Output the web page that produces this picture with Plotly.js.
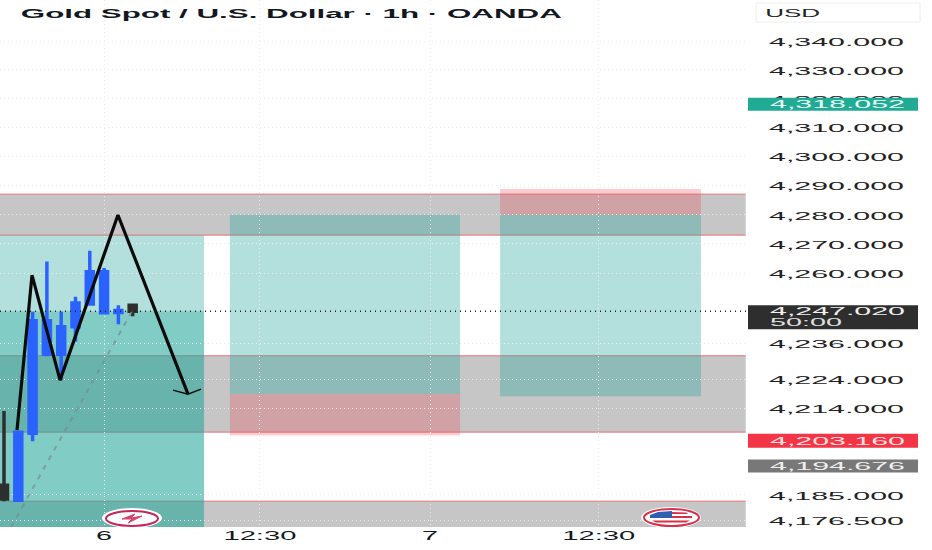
<!DOCTYPE html>
<html>
<head>
<meta charset="utf-8">
<script src="https://cdn.plot.ly/plotly-3.0.1.min.js"></script>
<style>html,body{margin:0;padding:0;background:#fff}#c{width:932px;height:550px}</style>
</head>
<body>
<div id="c"></div>
<script>
// ---- data ----
const barIndex = [0,1,2,3,4,5,6,7,8,9];
const opens  = [4188.23,4183.2,4205.72,4232.44,4232.44,4241.71,4249.44,4246.47,4246.6,4249.09];
const closes = [4183.54,4206.06,4243.75,4243.75,4241.71,4249.78,4260.45,4260.45,4247.3,4247.02];
const highs  = [4213.15,4206.3,4246.82,4264.0,4246.82,4251.92,4267.63,4261.72,4249.09,4249.2];
const lows   = [4182.86,4182.86,4203.03,4231.76,4223.63,4236.61,4249.44,4246.3,4242.63,4245.35];
const zigzagX = [0.91,1.96,3.92,7.97,12.87];
const zigzagY = [4206.74,4259.33,4223.63,4279.9,4218.89];
const arrowX = [11.82,12.87,13.78];
const arrowY = [4220.24,4218.89,4220.58];
const trendX = [0.49,8.95];
const trendY = [4174.16,4247.02];
const yTicks = [4340,4330,4320,4310,4300,4290,4280,4270,4260,4236,4224,4214,4185,4176.5];
const yLabels = ['4,340.000','4,330.000','4,320.000','4,310.000','4,300.000','4,290.000','4,280.000','4,270.000','4,260.000','4,236.000','4,224.000','4,214.000','4,185.000','4,176.500'];
const xTicks = [7,17.9,29.8,41.6];
const xLabels = ['6','12:30','7','12:30'];
const greyBands = [[4287.07,4273.0],[4231.9,4206.06],[4182.86,4174.2]];
const lastPrice = 4247.02;
const tealPrice = 4318.052;
const redPrice = 4203.16;
const greyPrice = 4194.676;
const zone1 = {x0:-0.28,x1:13.99,top:4273.0,entry:4247.02,bottom:4174.2};
const zone2 = {x0:15.8,x1:31.9,top:4280,entry:4218.9,stop:4204.9};
const zone3 = {x0:34.7,x1:48.75,top:4280,entry:4218.2,stop:4288.8};
// ---- end data ----

const W=932,H=550,L=0,R=186,T=0,B=23;
const pw=W-L-R, ph=H-T-B;
const xRange=[-0.28,51.9], yRange=[Math.log10(4174.2),Math.log10(4354.3)];
const px=v=>(v-L)/pw, py=v=>1-(v-T)/ph;
const valFrac=v=>(Math.log10(v)-yRange[0])/(yRange[1]-yRange[0]);
const TEAL='rgba(38,166,154,0.35)', PINK='rgba(242,54,69,0.25)', GREY='#c6c6c6', EDGE='rgba(235,80,90,0.75)';

const rect=(x0,x1,y0,y1,fill,layer)=>({type:'rect',xref:'x',yref:'y',x0,x1,y0,y1,fillcolor:fill,line:{width:0},layer:layer||'below'});
const shapes=[];
greyBands.forEach(b=>{
  shapes.push(rect(xRange[0],xRange[1]-0.02,b[0],b[1],GREY));
});
greyBands.forEach(b=>{
  [b[0],b[1]].forEach((v,i)=>{
    if(v<4175) return;
    shapes.push({type:'line',xref:'x',yref:'y',x0:xRange[0],x1:xRange[1]-0.02,y0:v,y1:v,line:{color:EDGE,width:1},layer:'below'});
  });
});
shapes.push(rect(zone1.x0,zone1.x1,zone1.top,zone1.bottom,TEAL));
shapes.push(rect(zone1.x0,zone1.x1,zone1.entry,zone1.bottom,TEAL));
shapes.push(rect(zone2.x0,zone2.x1,zone2.top,zone2.entry,TEAL));
shapes.push(rect(zone2.x0,zone2.x1,zone2.entry,zone2.stop,PINK));
shapes.push(rect(zone3.x0,zone3.x1,zone3.top,zone3.entry,TEAL));
shapes.push(rect(zone3.x0,zone3.x1,zone3.top,zone3.stop,PINK));
// last price dotted line
shapes.push({type:'line',xref:'x',yref:'y',x0:xRange[0],x1:xRange[1],y0:lastPrice,y1:lastPrice,line:{color:'#222',width:1.3,dash:'1px,4px'},layer:'above'});
// price badges
const badge=(v,fill,up,dn)=>({type:'rect',xref:'paper',yref:'paper',x0:px(748),x1:px(918),y0:valFrac(v)-dn/ph,y1:valFrac(v)+up/ph,fillcolor:fill,line:{width:0},layer:'above'});
shapes.push(badge(tealPrice,'#22ab94',6.5,6.5));
shapes.push(badge(lastPrice,'#2e2e2e',6,18));
shapes.push(badge(redPrice,'#f23645',7,7));
shapes.push(badge(greyPrice,'#787878',6.5,6.5));
// USD box
const pbox=(x0,x1,y0,y1,o)=>Object.assign({type:'rect',xref:'paper',yref:'paper',x0:px(x0),x1:px(x1),y0:py(y1),y1:py(y0),layer:'above'},o);
shapes.push(pbox(756,920,3,22,{fillcolor:'rgba(255,255,255,0)',line:{color:'#eeeeee',width:1}}));
// event icons
const pell=(x0,x1,y0,y1,o)=>Object.assign({type:'circle',xref:'paper',yref:'paper',x0:px(x0),x1:px(x1),y0:py(y1),y1:py(y0),layer:'above'},o);
const ppath=(pts,o)=>Object.assign({type:'path',xref:'paper',yref:'paper',path:pts.map((p,i)=>(i?'L':'M')+px(p[0])+','+py(p[1])).join(' '),layer:'above'},o);
shapes.push(pell(102,162,508,528,{fillcolor:'#fff',line:{width:0}}));
shapes.push(pell(106,158,511,526,{fillcolor:'#fff',line:{color:'#c2265a',width:2}}));
shapes.push(ppath([[122,519],[135,514],[131,518],[142,516],[128,523],[132,519],[122,519]],{fillcolor:'#d8436f',line:{color:'#d8436f',width:1}}));
shapes.push(pell(641,701,507,528,{fillcolor:'#fff',line:{width:0}}));
shapes.push(pell(644,699,509,526,{fillcolor:'#fff',line:{color:'#d8304a',width:2}}));
shapes.push(ppath([[650,515],[658,512],[672,511],[672,518],[650,518],[650,515]],{fillcolor:'#2f5fb0',line:{width:0}}));
shapes.push(ppath([[672,512],[686,512.5],[688,514],[672,514],[672,512]],{fillcolor:'#d8304a',line:{width:0}}));
shapes.push(ppath([[672,516],[692,516],[692,518],[672,518],[672,516]],{fillcolor:'#d8304a',line:{width:0}}));
shapes.push(ppath([[652,520.5],[690,520.5],[686,522.5],[656,522.5],[652,520.5]],{fillcolor:'#d8304a',line:{width:0}}));

const FONT='"Liberation Sans", Arial, sans-serif';
const logv=Math.log10;
const ann=(xpx,v,text,color)=>({xref:'paper',yref:'y',x:px(xpx),y:logv(v),xanchor:'left',yanchor:'middle',text,showarrow:false,font:{family:FONT,size:11,color},align:'left',xshift:0,yshift:0});
const annotations=[
  ann(768,tealPrice,'4,318.052','#e6fff9'),
  ann(768,lastPrice,'4,247.020','#f0f0f0'),
  Object.assign(ann(768,lastPrice,'50:00','#e0e0e0'),{yshift:-11}),
  ann(768,redPrice,'4,203.160','#ffdfe2'),
  ann(768,greyPrice,'4,194.676','#eeeeee'),
  {xref:'paper',yref:'paper',x:px(779),y:py(13),xanchor:'left',yanchor:'middle',text:'USD',showarrow:false,font:{family:FONT,size:11,color:'#222'}}
];

const traces=[
 {type:'candlestick',x:barIndex,open:opens,high:highs,low:lows,close:closes,whiskerwidth:0,
  increasing:{line:{color:'#2962ff',width:3.5},fillcolor:'#2962ff'},
  decreasing:{line:{color:'#2e2e2e',width:3.5},fillcolor:'#2e2e2e'},hoverinfo:'skip',showlegend:false},
 {type:'scatter',mode:'lines',x:trendX,y:trendY,line:{color:'rgba(120,140,140,0.7)',width:2,dash:'5px,6px'},hoverinfo:'skip',showlegend:false},
 {type:'scatter',mode:'lines',x:zigzagX,y:zigzagY,line:{color:'#0b0b0b',width:3.2},hoverinfo:'skip',showlegend:false},
 {type:'scatter',mode:'lines',x:arrowX,y:arrowY,line:{color:'#0b0b0b',width:1.5},hoverinfo:'skip',showlegend:false}
];

const layout={
 width:W,height:H,margin:{l:L,r:R,t:T,b:B,pad:0},paper_bgcolor:'#fff',plot_bgcolor:'#fff',showlegend:false,
 title:{text:'<b>Gold Spot / U.S. Dollar · 1h · OANDA</b>',font:{family:FONT,size:13,color:'#131722'},x:26/W,xref:'paper',xanchor:'left',y:1-13/H,yanchor:'middle'},
 xaxis:{type:'linear',range:xRange,tickmode:'array',tickvals:xTicks,ticktext:xLabels,showgrid:true,gridcolor:'#ececec',griddash:'1px,3px',gridwidth:1,zeroline:false,showline:false,ticks:'',rangeslider:{visible:false},tickfont:{family:FONT,size:12,color:'#131722'}},
 yaxis:{type:'log',side:'right',range:yRange,tickmode:'array',tickvals:yTicks,ticktext:yLabels,showgrid:true,gridcolor:'#ececec',griddash:'1px,3px',gridwidth:1,zeroline:false,showline:false,ticks:'',ticklabelstandoff:22,tickfont:{family:FONT,size:11,color:'#222'}},
 shapes,annotations
};

function stretch(sel,fn){
  document.querySelectorAll(sel).forEach(t=>{
    const w=fn(t.textContent);
    if(w){t.setAttribute('textLength',w);t.setAttribute('lengthAdjust','spacingAndGlyphs');}
  });
}
Plotly.newPlot('c',traces,layout,{displayModeBar:false,staticPlot:true}).then(()=>{
  stretch('.ytick text',()=>135);
  stretch('.xtick text',s=>s.length>1?73:16);
  stretch('.annotation-text',s=>s==='USD'?55:(s==='50:00'?72:135));
  stretch('.gtitle',()=>541);
  document.querySelectorAll('.ytick text').forEach(t=>t.setAttribute('y',parseFloat(t.getAttribute('y'))+1));
});
</script>
</body>
</html>
